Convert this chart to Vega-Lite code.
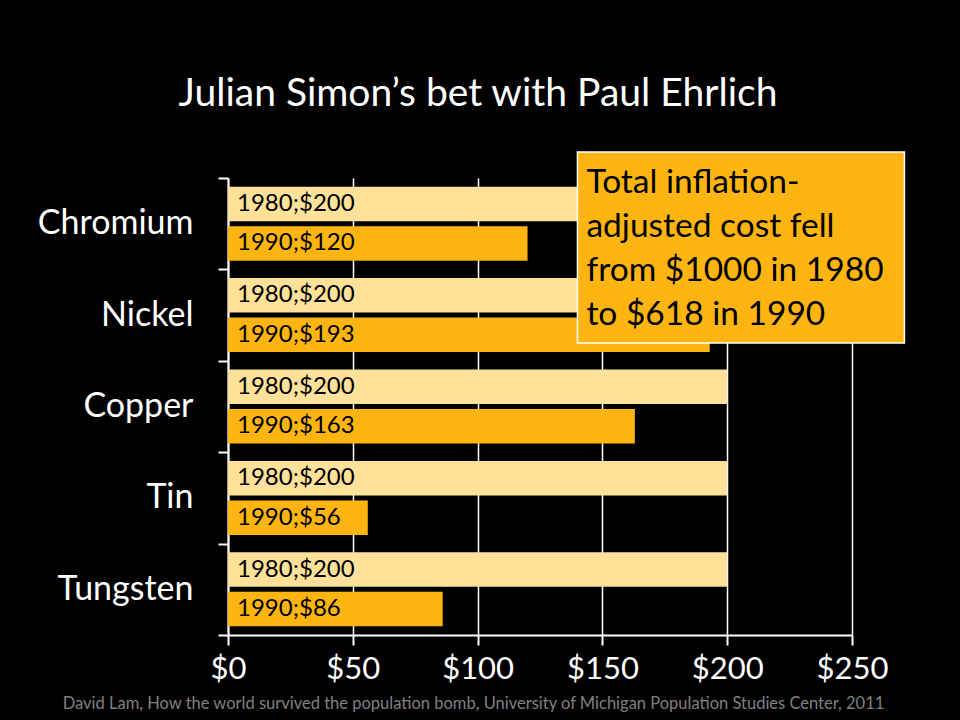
{
  "$schema": "https://vega.github.io/schema/vega-lite/v6.json",
  "width": 624,
  "height": 457,
  "autosize": {"type": "none"},
  "padding": {"left": 228, "top": 178, "right": 108, "bottom": 85},
  "background": "black",
  "config": {"view": {"stroke": null}, "font": "Lato"},
  "title": {
    "text": "Julian Simon’s bet with Paul Ehrlich",
    "color": "white",
    "fontSize": 39,
    "fontWeight": "normal",
    "font": "Lato",
    "anchor": "middle",
    "dx": -62,
    "offset": 37
  },
  "resolve": {"scale": {"y": "independent", "x": "shared"}, "axis": {"y": "independent"}},
  "layer": [
    {
      "data": {
        "values": [
          {"metal": "Chromium", "year": "1980", "value": 200, "label": "1980;$200"},
          {"metal": "Chromium", "year": "1990", "value": 120, "label": "1990;$120"},
          {"metal": "Nickel", "year": "1980", "value": 200, "label": "1980;$200"},
          {"metal": "Nickel", "year": "1990", "value": 193, "label": "1990;$193"},
          {"metal": "Copper", "year": "1980", "value": 200, "label": "1980;$200"},
          {"metal": "Copper", "year": "1990", "value": 163, "label": "1990;$163"},
          {"metal": "Tin", "year": "1980", "value": 200, "label": "1980;$200"},
          {"metal": "Tin", "year": "1990", "value": 56, "label": "1990;$56"},
          {"metal": "Tungsten", "year": "1980", "value": 200, "label": "1980;$200"},
          {"metal": "Tungsten", "year": "1990", "value": 86, "label": "1990;$86"}
        ]
      },
      "encoding": {
        "y": {
          "field": "metal",
          "type": "nominal",
          "sort": ["Chromium", "Nickel", "Copper", "Tin", "Tungsten"],
          "scale": {"paddingInner": 0, "paddingOuter": 0},
          "axis": {
            "title": null,
            "domainColor": "white",
            "domainWidth": 2,
            "tickColor": "white",
            "tickWidth": 2,
            "tickSize": 10,
            "tickBand": "extent",
            "labelColor": "white",
            "labelFontSize": 34,
            "labelFont": "Lato",
            "labelPadding": 25,
            "grid": false
          }
        },
        "yOffset": {
          "field": "year",
          "type": "nominal",
          "scale": {"paddingInner": 0.127, "paddingOuter": 0.22}
        }
      },
      "layer": [
        {
          "mark": {"type": "bar"},
          "encoding": {
            "x": {
              "field": "value",
              "type": "quantitative",
              "scale": {"domain": [0, 250], "nice": false},
              "axis": {
                "values": [0, 50, 100, 150, 200, 250],
                "format": "$.0f",
                "labelFlush": false,
                "labelOverlap": false,
                "domainColor": "white",
                "domainWidth": 2,
                "tickColor": "white",
                "tickWidth": 2,
                "tickSize": 10,
                "labelColor": "white",
                "labelFontSize": 31,
                "labelFont": "Lato",
                "labelPadding": 9,
                "grid": true,
                "gridColor": "white",
                "gridWidth": 1.5,
                "gridOpacity": 1,
                "title": "David Lam, How the world survived the population bomb, University of Michigan Population Studies Center, 2011",
                "titleColor": "#808080",
                "titleFontSize": 16.5,
                "titleFontWeight": "normal",
                "titleFont": "Lato",
                "titleX": 245,
                "titleY": 68,
                "titleAlign": "center",
                "titleBaseline": "middle"
              }
            },
            "color": {
              "field": "year",
              "type": "nominal",
              "scale": {"domain": ["1980", "1990"], "range": ["#FFE199", "#FFB511"]},
              "legend": null
            }
          }
        },
        {
          "mark": {"type": "text", "align": "left", "baseline": "middle", "dx": 9, "fontSize": 24, "color": "black", "font": "Lato"},
          "encoding": {
            "x": {"datum": 0, "type": "quantitative"},
            "text": {"field": "label"}
          }
        }
      ]
    },
    {
      "data": {"values": [{"note": "box"}]},
      "layer": [
        {
          "mark": {"type": "rect", "color": "#FFB511", "stroke": "white", "strokeWidth": 1.5, "clip": false},
          "encoding": {
            "x": {"datum": 140, "type": "quantitative"},
            "x2": {"datum": 271},
            "y": {"datum": -0.284, "type": "quantitative", "scale": {"domain": [0, 5], "reverse": true, "nice": false, "zero": false}, "axis": null},
            "y2": {"datum": 1.805}
          }
        },
        {
          "mark": {"type": "text", "align": "left", "baseline": "top", "dx": 9, "dy": 15, "fontSize": 33.5, "lineHeight": 44, "color": "black", "font": "Lato"},
          "encoding": {
            "x": {"datum": 140, "type": "quantitative"},
            "y": {"datum": -0.284, "type": "quantitative"},
            "text": {"value": ["Total inflation-", "adjusted cost fell", "from $1000 in 1980", "to $618 in 1990"]}
          }
        }
      ]
    }
  ]
}
